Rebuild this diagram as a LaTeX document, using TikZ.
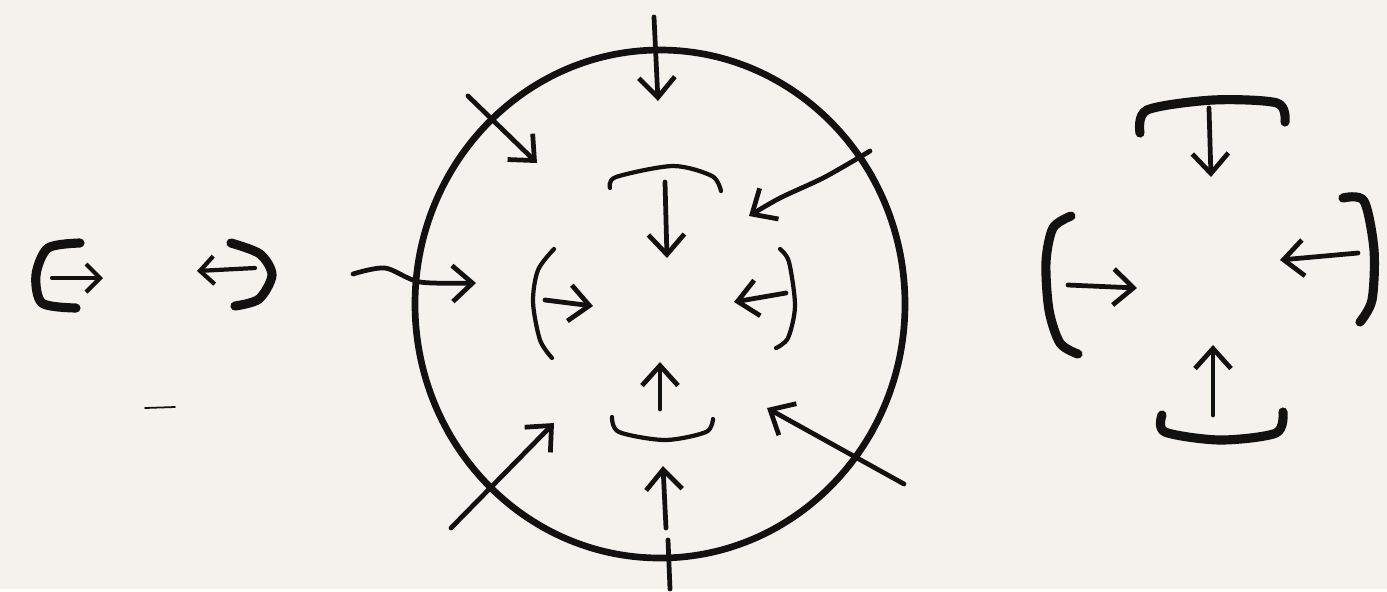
\documentclass[tikz,border=0pt]{standalone}
\usepackage{tikz}
\usetikzlibrary{arrows.meta}
\usepackage{xcolor}
\definecolor{paper}{HTML}{F5F1EC}
\definecolor{ink}{HTML}{111111}

\begin{document}
\begin{tikzpicture}[x=0.01cm,y=-0.01cm,line cap=round,line join=round,
  >={Straight Barb[length=2mm,width=3.6mm]},
  bracket/.style={ink,line width=2.6pt},
  thinbracket/.style={ink,line width=1.2pt},
  ring/.style={ink,line width=1.9pt},
  push/.style={ink,->,line width=1.35pt},
  small push/.style={ink,line width=1.2pt,-{Straight Barb[length=1.4mm,width=2.8mm]}}]
\fill[paper] (0,0) rectangle (1387,589);
% left pair, apart
\draw[bracket] plot[smooth] coordinates {(80,243) (48,248) (36,275) (42,303) (76,308)};
\draw[small push] (52,278) -- (103,278);
\draw[bracket] plot[smooth] coordinates {(231,243) (260,254) (272,275) (259,299) (235,306)};
\draw[small push] (255,268) -- (197,271);
\draw[ink,line width=0.5pt] (145,408) -- (175,407);
% the ring and the pushes through it
\draw[ring] (660,304) ellipse [x radius=245,y radius=254];
\draw[push] (654,17) -- (658,101);
\draw[push] (468,96) -- (537,163);
\draw[push] plot[smooth] coordinates {(870,151) (825,177) (780,198) (749,216)};
\draw[push] plot[smooth] coordinates {(353,274) (385,268) (420,282) (476,283)};
\draw[push] (451,528) -- (554,423);
\draw[push] (904,484) -- (767,408);
\draw[ink,line width=1.35pt] (670,589) -- (668,540);
\draw[push] (666,528) -- (663,466);
% inner brackets
\draw[thinbracket] plot[smooth] coordinates {(610,188) (616,177) (673,166) (712,176) (721,191)};
\draw[push] (665,182) -- (667,258);
\draw[thinbracket] plot[smooth] coordinates {(554,249) (538,270) (533,302) (540,340) (552,358)};
\draw[push] (545,300) -- (593,306);
\draw[thinbracket] plot[smooth] coordinates {(780,249) (789,262) (795,306) (788,338) (776,348)};
\draw[push] (786,293) -- (734,302);
\draw[push] (660,409) -- (660,362);
\draw[thinbracket] plot[smooth] coordinates {(612,417) (619,432) (665,440) (706,432) (713,419)};
% right group
\draw[bracket] plot[smooth] coordinates {(1140,133) (1147,110) (1213,100) (1277,103) (1285,122)};
\draw[push] (1209,108) -- (1211,177);
\draw[bracket] plot[smooth] coordinates {(1071,216) (1053,228) (1046,262) (1049,310) (1060,343) (1078,354)};
\draw[push] (1068,285) -- (1137,288);
\draw[bracket] plot[smooth] coordinates {(1343,198) (1364,201) (1374,250) (1372,300) (1360,322)};
\draw[push] (1358,253) -- (1280,260);
\draw[push] (1213,415) -- (1213,345);
\draw[bracket] plot[smooth] coordinates {(1162,415) (1165,432) (1220,440) (1276,433) (1283,412)};
\end{tikzpicture}
\end{document}
